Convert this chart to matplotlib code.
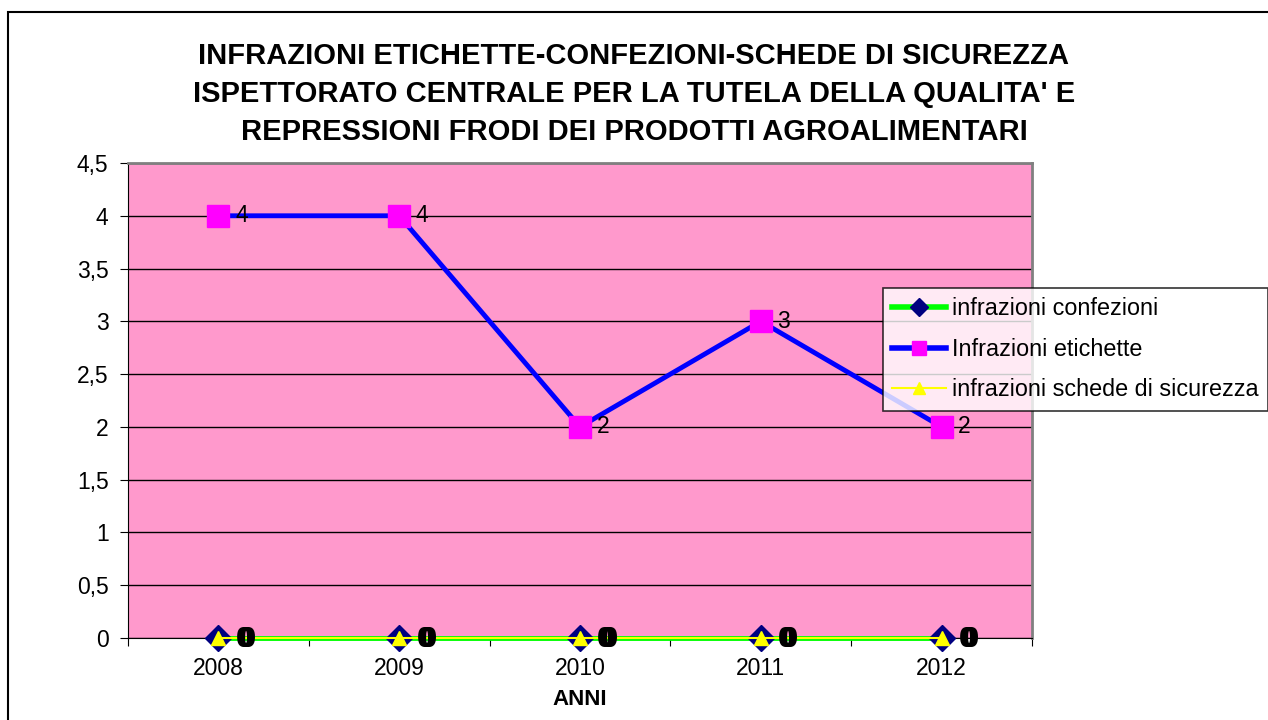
import matplotlib
matplotlib.use("Agg")
import matplotlib.pyplot as plt
from matplotlib.patches import Rectangle
from matplotlib.lines import Line2D
from matplotlib.ticker import FuncFormatter, MultipleLocator, FixedLocator

plt.rcParams['font.family'] = ['Liberation Sans', 'DejaVu Sans']

years = ['2008', '2009', '2010', '2011', '2012']
confezioni = [0, 0, 0, 0, 0]
etichette = [4, 4, 2, 3, 2]
schede = [0, 0, 0, 0, 0]

title = ("INFRAZIONI ETICHETTE-CONFEZIONI-SCHEDE DI SICUREZZA\n"
         "ISPETTORATO CENTRALE PER LA TUTELA DELLA QUALITA' E\n"
         "REPRESSIONI FRODI DEI PRODOTTI AGROALIMENTARI")

fig = plt.figure(figsize=(12.68, 7.2), dpi=100)
fig.patch.set_facecolor('white')
# outer chart border
fig.add_artist(Rectangle((8/1268, -0.05), 1.1, (720-12)/720 + 0.05,
                         transform=fig.transFigure, fill=False,
                         edgecolor='black', linewidth=1.5))

ax = fig.add_axes([128/1268, 1-638/720, (1032-128)/1268, (638-163)/720])
ax.set_facecolor('#FF99CC')
x = list(range(len(years)))

ax.set_xlim(-0.5, 4.5)
ax.set_ylim(0, 4.5)
ax.yaxis.set_major_locator(MultipleLocator(0.5))
ax.yaxis.set_major_formatter(FuncFormatter(
    lambda v, p: ('%g' % v).replace('.', ',')))
ax.grid(axis='y', color='black', linewidth=1)
ax.set_axisbelow(True)

ax.xaxis.set_major_locator(FixedLocator([i - 0.5 for i in range(len(years) + 1)]))
ax.xaxis.set_major_formatter(FuncFormatter(lambda v, p: ''))
ax.xaxis.set_minor_locator(FixedLocator(x))
ax.set_xticklabels(years, minor=True)
ax.tick_params(axis='x', which='minor', length=0, labelsize=16.5, pad=14)
ax.tick_params(axis='x', which='major', length=6, direction='out', color='black')
ax.tick_params(axis='y', length=6, direction='out', labelsize=16.5, pad=8)

for s in ['top', 'right']:
    ax.spines[s].set_color('#808080')
    ax.spines[s].set_linewidth(2)
ax.spines['left'].set_color('black')
ax.spines['bottom'].set_color('black')

ax.plot(x, confezioni, color='#00FF00', linewidth=3.5, marker='D',
        markersize=13, markerfacecolor='#000080', markeredgecolor='#000080',
        clip_on=False, zorder=3)
ax.plot(x, etichette, color='#0000FF', linewidth=3.5, marker='s',
        markersize=16, markerfacecolor='#FF00FF', markeredgecolor='#FF00FF',
        clip_on=False, zorder=4)
ax.plot(x, schede, color='#FFFF00', linewidth=1.5, marker='^',
        markersize=10, markerfacecolor='#FFFF00', markeredgecolor='#FFFF00',
        clip_on=False, zorder=5)

for xi, v in zip(x, etichette):
    ax.annotate(str(v), (xi, v), xytext=(12, 0), textcoords='offset points',
                va='center', ha='left', fontsize=16.5, zorder=6)
for off, vals in [(12.5, confezioni), (14, schede), (15.5, confezioni)]:
    for xi, v in zip(x, vals):
        ax.annotate(str(v), (xi, v), xytext=(off, -1), textcoords='offset points',
                    va='center', ha='left', fontsize=21, fontweight='bold',
                    zorder=7, annotation_clip=False)

ax.set_xlabel('ANNI', fontsize=16, fontweight='bold', labelpad=6)
fig.text(0.5, 1-94/720, title, ha='center', va='center', fontsize=21,
         fontweight='bold', linespacing=1.45)

h1 = Line2D([], [], color='#00FF00', linewidth=4, marker='D', markersize=9,
            markerfacecolor='#000080', markeredgecolor='#000080')
h2 = Line2D([], [], color='#0000FF', linewidth=4, marker='s', markersize=10,
            markerfacecolor='#FF00FF', markeredgecolor='#FF00FF')
h3 = Line2D([], [], color='#FFFF00', linewidth=1.5, marker='^', markersize=9,
            markerfacecolor='#FFFF00', markeredgecolor='#FFFF00')
leg = fig.legend(handles=[h1, h2, h3],
                 labels=['infrazioni confezioni', 'Infrazioni etichette',
                         'infrazioni schede di sicurezza'],
                 loc='upper left',
                 bbox_to_anchor=(883/1268, 1-288/720), fontsize=16.8,
                 frameon=True, fancybox=False, edgecolor='black',
                 handlelength=2.3, handletextpad=0.25, borderpad=0.4,
                 labelspacing=0.75, borderaxespad=0)
leg.get_frame().set_linewidth(1.2)

fig.savefig('out.png', dpi=100)
